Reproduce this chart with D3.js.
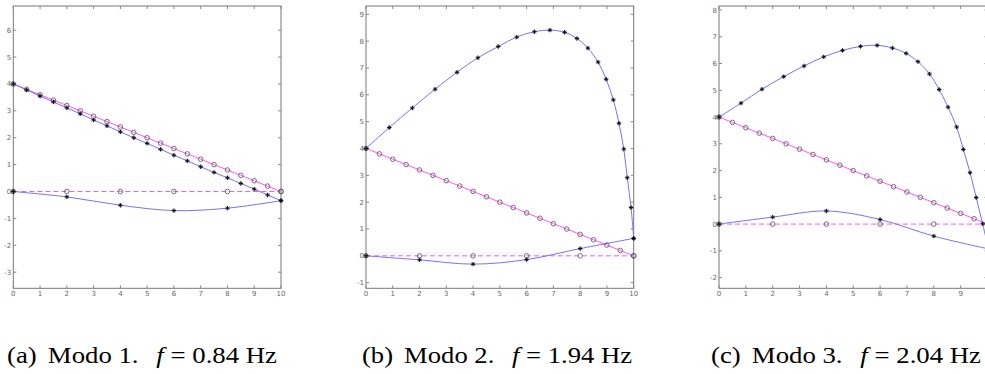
<!DOCTYPE html>
<html>
<head>
<meta charset="utf-8">
<script src="https://cdn.jsdelivr.net/npm/d3@7"></script>
<style>
  body { margin: 0; background: #fff; }
  svg { display: block; }
  .tick-label { font-family: "DejaVu Sans", sans-serif; font-size: 7px; fill: #666; }
  .caption { font-family: "Liberation Serif", "Times New Roman", serif; font-size: 24px; fill: #000; }
</style>
</head>
<body>
<svg id="chart" width="985" height="374"></svg>
<script>
// ---- data ----
const xHalf = [0,0.5,1,1.5,2,2.5,3,3.5,4,4.5,5,5.5,6,6.5,7,7.5,8,8.5,9,9.5,10];
const xEven = [0,2,4,6,8,10];

// undeformed reference (same in all modes)
const refDiag = [4,3.8,3.6,3.4,3.2,3,2.8,2.6,2.4,2.2,2,1.8,1.6,1.4,1.2,1,0.8,0.6,0.4,0.2,0];
const refFlat = [0,0,0,0,0,0];

// mode 1
const m1DiagY = [4,3.78,3.55,3.33,3.11,2.89,2.66,2.44,2.22,2.0,1.79,1.57,1.35,1.14,0.92,0.71,0.51,0.3,0.09,-0.13,-0.34];
const m1FlatY = [0,-0.2,-0.51,-0.71,-0.62,-0.34];

// mode 2
const m2ArcX = [0,0.87,1.73,2.58,3.4,4.18,4.94,5.63,6.29,6.87,7.42,7.88,8.29,8.67,8.97,9.24,9.45,9.63,9.76,9.9,10];
const m2ArcY = [4,4.78,5.51,6.21,6.84,7.38,7.8,8.15,8.35,8.41,8.33,8.1,7.74,7.22,6.58,5.81,4.94,3.98,2.91,1.8,0.65];
const m2FlatY = [0,-0.15,-0.31,-0.14,0.27,0.65];

// mode 3
const m3ArcX = [0,0.82,1.6,2.41,3.17,3.9,4.6,5.27,5.89,6.46,6.97,7.41,7.84,8.2,8.53,8.85,9.1,9.35,9.58,9.82,10.05];
const m3ArcY = [4,4.52,5.04,5.51,5.91,6.25,6.49,6.64,6.68,6.58,6.38,6.07,5.61,5.03,4.37,3.63,2.79,1.92,0.99,0.01,-1.0];
const m3FlatY = [0,0.26,0.49,0.17,-0.45,-0.92];

const xTicks = [0,1,2,3,4,5,6,7,8,9,10];

const captions = [
  {label: "(a)", mode: "Modo 1.", freq: "0.84 Hz"},
  {label: "(b)", mode: "Modo 2.", freq: "1.94 Hz"},
  {label: "(c)", mode: "Modo 3.", freq: "2.04 Hz"}
];

const BLUE = "#7373ff";
const MAGENTA = "#ff55ff";

const panels = [
  {
    x0: 13.3, x1: 281, yDom: [-3.6, 6.9], yTicks: [-3,-2,-1,0,1,2,3,4,5,6],
    diagY: m1DiagY, diagX: xHalf, flatY: m1FlatY, capX: 7
  },
  {
    x0: 366, x1: 633.7, yDom: [-1.21, 9.31], yTicks: [-1,0,1,2,3,4,5,6,7,8,9],
    diagY: m2ArcY, diagX: m2ArcX, flatY: m2FlatY, capX: 362
  },
  {
    x0: 719, x1: 987.5, yDom: [-2.4, 8.15], yTicks: [-2,-1,0,1,2,3,4,5,6,7,8],
    diagY: m3ArcY, diagX: m3ArcX, flatY: m3FlatY, capX: 711
  }
];

const svg = d3.select("#chart");
const boxTop = 6, boxBottom = 288.3;

panels.forEach((p, i) => {
  const x = d3.scaleLinear().domain([0, 10]).range([p.x0, p.x1]);
  const y = d3.scaleLinear().domain(p.yDom).range([boxBottom, boxTop]);
  const g = svg.append("g");

  // axes box
  g.append("rect")
    .attr("x", p.x0).attr("y", boxTop)
    .attr("width", p.x1 - p.x0).attr("height", boxBottom - boxTop)
    .attr("fill", "none").attr("stroke", "#777").attr("stroke-width", 1);

  // ticks (inward, all four sides)
  const tk = g.append("g").attr("stroke", "#888").attr("stroke-width", 1);
  xTicks.forEach(t => {
    tk.append("line").attr("x1", x(t)).attr("x2", x(t)).attr("y1", boxBottom).attr("y2", boxBottom - 3);
    tk.append("line").attr("x1", x(t)).attr("x2", x(t)).attr("y1", boxTop).attr("y2", boxTop + 3);
  });
  p.yTicks.forEach(t => {
    tk.append("line").attr("x1", p.x0).attr("x2", p.x0 + 3).attr("y1", y(t)).attr("y2", y(t));
    tk.append("line").attr("x1", p.x1).attr("x2", p.x1 - 3).attr("y1", y(t)).attr("y2", y(t));
  });

  // tick labels (only those that fall inside the page)
  g.selectAll(".xl").data(xTicks.filter(d => x(d) < 980)).enter().append("text")
    .attr("class", "tick-label")
    .attr("x", d => x(d)).attr("y", boxBottom + 8)
    .attr("text-anchor", "middle")
    .text(d => d);
  g.selectAll(".yl").data(p.yTicks).enter().append("text")
    .attr("class", "tick-label")
    .attr("x", p.x0 - 2).attr("y", d => y(d) + 2.5)
    .attr("text-anchor", "end")
    .text(d => d);

  const lineCurve = d3.line().x(d => x(d[0])).y(d => y(d[1])).curve(d3.curveCatmullRom);
  const lineStraight = d3.line().x(d => x(d[0])).y(d => y(d[1]));

  const ref1 = xHalf.map((v, k) => [v, refDiag[k]]);
  const ref2 = xEven.map((v, k) => [v, refFlat[k]]);
  const def1 = p.diagX.map((v, k) => [v, p.diagY[k]]);
  const def2 = xEven.map((v, k) => [v, p.flatY[k]]);

  // reference (undeformed) lines
  g.append("path").attr("d", lineStraight(ref2))
    .attr("fill", "none").attr("stroke", MAGENTA).attr("stroke-width", 1)
    .attr("stroke-dasharray", "5,3");
  g.append("path").attr("d", lineStraight(ref1))
    .attr("fill", "none").attr("stroke", MAGENTA).attr("stroke-width", 1);

  // deformed lines
  g.append("path").attr("d", (i === 0 ? lineStraight : lineCurve)(def1))
    .attr("fill", "none").attr("stroke", BLUE).attr("stroke-width", 1);
  g.append("path").attr("d", lineCurve(def2))
    .attr("fill", "none").attr("stroke", BLUE).attr("stroke-width", 1);

  // circle markers
  g.selectAll(".c").data(ref1.concat(ref2)).enter().append("circle")
    .attr("cx", d => x(d[0])).attr("cy", d => y(d[1])).attr("r", 2.3)
    .attr("fill", "none").attr("stroke", "#555").attr("stroke-width", 0.8);

  // star markers
  const stars = def1.concat(def2);
  const sg = g.append("g").attr("stroke", "#111").attr("stroke-width", 1.1);
  stars.forEach(d => {
    const cx = x(d[0]), cy = y(d[1]);
    sg.append("line").attr("x1", cx - 2.2).attr("x2", cx + 2.2).attr("y1", cy).attr("y2", cy);
    sg.append("line").attr("x1", cx).attr("x2", cx).attr("y1", cy - 2.2).attr("y2", cy + 2.2);
    sg.append("line").attr("x1", cx - 1.5).attr("x2", cx + 1.5).attr("y1", cy - 1.5).attr("y2", cy + 1.5).attr("stroke-width", 0.7);
    sg.append("line").attr("x1", cx - 1.5).attr("x2", cx + 1.5).attr("y1", cy + 1.5).attr("y2", cy - 1.5).attr("stroke-width", 0.7);
  });

  // caption
  const c = captions[i];
  const t = svg.append("text").attr("class", "caption")
    .attr("x", p.capX).attr("y", 363)
    .attr("textLength", 270).attr("lengthAdjust", "spacingAndGlyphs");
  t.append("tspan").text(c.label);
  t.append("tspan").attr("dx", 10).text(c.mode);
  t.append("tspan").attr("dx", 16).attr("font-style", "italic").text("f");
  t.append("tspan").attr("dx", 6).text("=");
  t.append("tspan").attr("dx", 6).text(c.freq);
});
</script>
</body>
</html>
